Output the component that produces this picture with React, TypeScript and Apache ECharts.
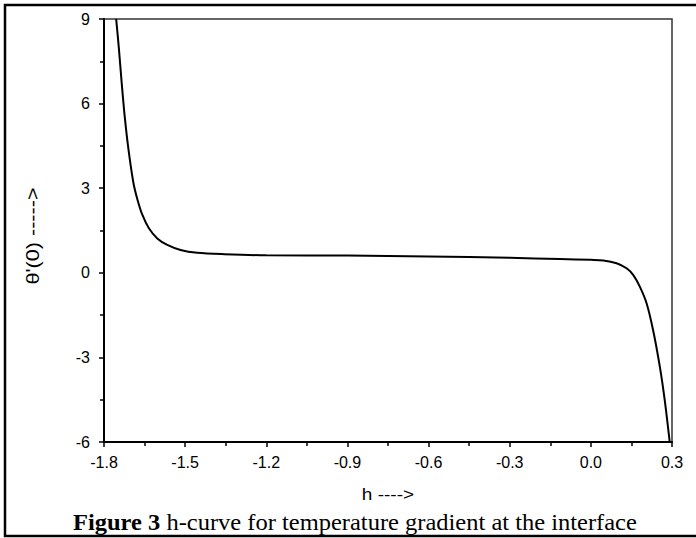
import React, { useEffect, useRef } from "react";
import * as echarts from "echarts";

// h values and θ'(0) values
const hValues: number[] = [
  -1.755, -1.745, -1.735, -1.724, -1.71, -1.692, -1.677, -1.658, -1.634, -1.603,
  -1.566, -1.517, -1.455, -1.356, -1.2, -0.9, -0.6, -0.3, -0.114, 0.0,
  0.046, 0.095, 0.132, 0.157, 0.181, 0.206, 0.23, 0.255, 0.273, 0.292,
];
const thetaValues: number[] = [
  9.0, 7.96, 6.78, 5.6, 4.41, 3.23, 2.62, 2.05, 1.58, 1.22,
  0.99, 0.81, 0.71, 0.66, 0.62, 0.61, 0.58, 0.53, 0.49, 0.46,
  0.44, 0.34, 0.16, -0.08, -0.49, -1.08, -2.03, -3.33, -4.51, -6.04,
];

const xTicks = { min: -1.8, max: 0.3, interval: 0.3 };
const yTicks = { min: -6, max: 9, interval: 3 };

const xAxisTitle = "h ---->";
const yAxisTitle = "θ'(0) ----->";
const captionBold = "Figure 3";
const captionRest = " h-curve for temperature gradient at the interface";

export default function App() {
  const ref = useRef<HTMLDivElement>(null);

  useEffect(() => {
    if (!ref.current) return;
    const chart = echarts.init(ref.current, undefined, { renderer: "svg" });
    const sans = "'Liberation Sans', Arial, sans-serif";
    const serif = "'Liberation Serif', 'Times New Roman', serif";
    const data = hValues.map((h, i) => [h, thetaValues[i]]);

    chart.setOption({
      animation: false,
      backgroundColor: "#ffffff",
      grid: {
        left: 104,
        top: 19,
        right: 24,
        bottom: 96,
        show: true,
        borderColor: "#333",
        borderWidth: 1.5,
        containLabel: false,
      },
      xAxis: {
        type: "value",
        min: xTicks.min,
        max: xTicks.max,
        interval: xTicks.interval,
        axisLine: { show: true, onZero: false, lineStyle: { color: "#000", width: 2 } },
        axisTick: { show: true, inside: false, length: 5, lineStyle: { color: "#000", width: 1.5 } },
        minorTick: { show: true, splitNumber: 2, length: 4, lineStyle: { color: "#000", width: 1.5 } },
        splitLine: { show: false },
        axisLabel: {
          margin: 12,
          color: "#000",
          fontSize: 16,
          fontFamily: sans,
          formatter: (v: number) => (Math.abs(v) < 1e-9 ? "0.0" : v.toFixed(1)),
        },
      },
      yAxis: {
        type: "value",
        min: yTicks.min,
        max: yTicks.max,
        interval: yTicks.interval,
        axisLine: { show: true, onZero: false, lineStyle: { color: "#000", width: 2 } },
        axisTick: { show: true, inside: false, length: 5, lineStyle: { color: "#000", width: 1.5 } },
        minorTick: { show: true, splitNumber: 2, length: 4, lineStyle: { color: "#000", width: 1.5 } },
        splitLine: { show: false },
        axisLabel: {
          margin: 14,
          color: "#000",
          fontSize: 16,
          fontFamily: sans,
          formatter: (v: number) => String(Math.round(v)),
        },
      },
      series: [
        {
          type: "line",
          data,
          smooth: 0.3,
          showSymbol: false,
          clip: true,
          lineStyle: { color: "#000", width: 2 },
        },
      ],
      graphic: [
        {
          type: "rect",
          silent: true,
          shape: { x: 5, y: 5, width: 720, height: 531 },
          style: { fill: "none", stroke: "#000", lineWidth: 2.5 },
        },
        {
          type: "text",
          x: 388,
          y: 494,
          scaleX: 1.12,
          style: {
            text: xAxisTitle,
            fill: "#000",
            font: `17px ${sans}`,
            align: "center",
            verticalAlign: "middle",
          },
        },
        {
          type: "text",
          x: 33,
          y: 236,
          rotation: Math.PI / 2,
          scaleX: 1.2,
          style: {
            text: yAxisTitle,
            fill: "#000",
            font: `18px ${sans}`,
            align: "center",
            verticalAlign: "middle",
          },
        },
        {
          type: "text",
          x: 73,
          y: 522,
          scaleX: 1.065,
          style: {
            text: `{b|${captionBold}}{n|${captionRest}}`,
            fill: "#000",
            font: `23px ${serif}`,
            align: "left",
            verticalAlign: "middle",
            rich: {
              b: { fontWeight: "bold", fontSize: 23, fontFamily: serif, fill: "#000" },
              n: { fontWeight: "normal", fontSize: 23, fontFamily: serif, fill: "#000" },
            },
          },
        },
      ],
    });

    return () => chart.dispose();
  }, []);

  return (
    <div
      ref={ref}
      style={{ position: "absolute", left: 0, top: 0, width: 696, height: 538, background: "#fff" }}
    />
  );
}
